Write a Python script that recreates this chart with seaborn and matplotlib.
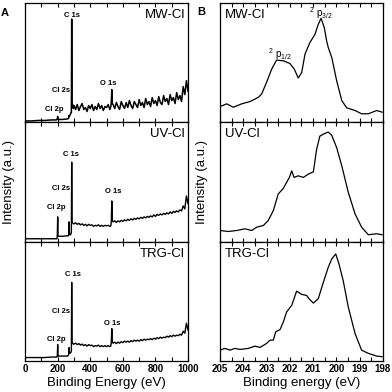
import matplotlib
matplotlib.use("Agg")
import matplotlib.pyplot as plt
from matplotlib.ticker import MultipleLocator
import seaborn as sns

sns.set_style("ticks")
plt.rcParams['font.family'] = ['Liberation Sans', 'DejaVu Sans']
plt.rcParams['mathtext.fontset'] = 'custom'
plt.rcParams['mathtext.rm'] = 'Liberation Sans'
plt.rcParams['text.color'] = 'black'
plt.rcParams['axes.labelcolor'] = 'black'
plt.rcParams['xtick.color'] = 'black'

# ---- Panel A: survey spectra (shared energy grid, eV) ----
survey_ev = [0, 40, 80, 120, 160, 190, 196, 198, 200, 202, 204, 230, 260, 266, 268, 270, 272, 274,
             278, 282, 284, 286, 288, 292, 296,
             300, 310, 320, 330, 340, 350, 360, 370, 380, 390, 400, 410, 420, 430, 440, 450, 460,
             470, 480, 490, 500, 510, 520,
             526, 529, 532, 535,
             540, 550, 560, 570, 580, 590, 600, 610, 620, 630, 640, 650, 660, 670, 680, 690, 700,
             710, 720, 730, 740, 750, 760, 770, 780, 790, 800, 810, 820, 830, 840, 850, 860, 870,
             880, 890, 900, 910, 920, 930, 940, 950, 960, 970, 980, 990, 1000]

survey_mw = [1.5, 1.5, 2, 2, 2.5, 2.5, 3, 4, 6, 3, 3, 3, 3.5, 4, 5, 7, 6, 7,
             8, 10, 10, 104, 18, 18, 14,
             17, 13, 18, 12, 16, 19, 13, 15, 11, 17, 14, 18, 12, 16, 13, 19, 14,
             17, 12, 16, 15, 18, 13,
             16, 20, 33, 19,
             18, 14, 20, 16, 13, 21, 17, 14, 20, 15, 22, 17, 14, 21, 18, 15, 23,
             17, 20, 15, 24, 18, 21, 16, 25, 19, 22, 17, 26, 20, 18, 27, 21, 24,
             18, 28, 22, 25, 19, 30, 23, 27, 21, 36, 28, 42, 31]

survey_uv = [3, 3, 3, 3, 3, 3, 3, 8, 25, 6, 5.5, 5.5, 6, 6, 8, 20, 8, 7,
             7, 8, 10, 80, 20, 19, 18,
             18, 19, 17.5, 18.5, 17, 18, 16.5, 17.5, 16, 17.5, 16.5, 17, 15.5, 16.5, 16, 17, 15.5,
             16.5, 15.5, 16.5, 16, 16.5, 15.5,
             16, 20, 41, 21,
             20, 21, 19.5, 21, 20, 21.5, 20.5, 22, 21, 22.5, 21.5, 23, 22, 23.5, 22.5, 24, 23,
             24.5, 23.5, 25, 24, 25.5, 24.5, 26, 25, 27, 25.5, 27.5, 26.5, 28, 27, 28.5, 27.5, 29,
             28, 30, 28.5, 30.5, 29.5, 31, 30, 32, 31, 36, 33, 46, 38]

survey_trg = [3.5, 3.5, 3.5, 3.5, 4, 4, 4, 6, 16.5, 5, 5, 5, 5, 6, 7, 13.5, 8, 8,
              8, 9, 10, 79, 19, 18, 17,
              17, 18, 16.5, 17.5, 16, 17, 15.5, 16.5, 15, 16.5, 15.5, 16, 14.5, 15.5, 15, 16, 14.5,
              15.5, 14.5, 15.5, 14.5, 15.5, 14.5,
              15, 19, 32.5, 19,
              18, 19, 17.5, 19, 18, 19.5, 18.5, 20, 19, 20, 19, 20.5, 19.5, 21, 20, 21, 20,
              21.5, 20.5, 22, 21, 22, 21.5, 22.5, 21.5, 23, 22, 23.5, 22.5, 24, 23, 24, 23.5, 25,
              24, 25.5, 24.5, 26, 25, 26, 25.5, 27, 26, 30, 28, 38, 31]

# ---- Panel B: Cl 2p high resolution ----
mw_ev = [205.0, 204.71, 204.43, 204.07, 203.71, 203.35, 203.21, 203.0, 202.78, 202.57, 202.28,
         202.0, 201.81, 201.64, 201.49, 201.35, 201.14, 200.92, 200.78, 200.66, 200.52, 200.42,
         200.35, 200.20, 199.99, 199.77, 199.56, 199.20, 198.92, 198.63, 198.27, 198.03]
mw_int = [16, 18.7, 15.3, 18.7, 21, 25.3, 28.7, 40.3, 53.7, 62.7, 62, 59.3, 53.7, 44.7, 50.3,
          68.7, 80.3, 88.7, 98.7, 104.7, 95.3, 82, 75.3, 65.3, 42, 22, 14.7, 12, 8.7, 8.7, 12, 10.3]

uv_ev = [205.0, 204.64, 204.28, 203.93, 203.64, 203.42, 203.14, 202.93, 202.71, 202.50, 202.28,
         202.14, 202.02, 201.92, 201.82, 201.64, 201.42, 201.21, 200.99, 200.85, 200.71, 200.49,
         200.35, 200.20, 199.99, 199.77, 199.49, 199.20, 198.92, 198.63, 198.27, 198.03]
uv_int = [11.3, 10.3, 11.3, 13, 11.3, 14.7, 16.3, 21.3, 31.3, 48, 53.7, 59.7, 64.7, 71.3, 64.7,
          66.3, 64.7, 68, 70.3, 93, 106.3, 109, 110.3, 107, 94.7, 76.3, 49.7, 28, 14.7, 7, 8, 7]

trg_ev = [205.0, 204.79, 204.57, 204.36, 204.14, 203.78, 203.50, 203.28, 203.0, 202.85, 202.71,
          202.61, 202.42, 202.28, 202.14, 201.92, 201.71, 201.49, 201.28, 201.14, 200.99, 200.78,
          200.56, 200.35, 200.20, 200.03, 199.89, 199.71, 199.49, 199.20, 198.92, 198.63, 198.27,
          198.03]
trg_int = [11, 12.7, 11, 12.7, 11.7, 12.7, 15, 13.7, 17.7, 21, 21, 29.3, 31.7, 39.3, 49.3, 56,
           70.3, 67, 66, 61.7, 58.3, 62.7, 79.3, 94.3, 102.7, 107.7, 97.7, 81, 54.3, 27.7, 11, 7.7,
           5, 4.3]

sample_names = ["MW-Cl", "UV-Cl", "TRG-Cl"]
survey_sets = [survey_mw, survey_uv, survey_trg]
hr_sets = [(mw_ev, mw_int), (uv_ev, uv_int), (trg_ev, trg_int)]

# peak label positions (eV, height) per sample
survey_labels = [
    {"C 1s": (288, 108), "Cl 2s": (221, 32), "Cl 2p": (178, 13), "O 1s": (509, 39)},
    {"C 1s": (282, 88), "Cl 2s": (221, 54), "Cl 2p": (194, 34), "O 1s": (540, 51)},
    {"C 1s": (292, 87), "Cl 2s": (221, 50), "Cl 2p": (190, 22), "O 1s": (532, 38)},
]

fig, axes = plt.subplots(3, 2, figsize=(3.92, 3.92), dpi=100)
fig.subplots_adjust(left=0.064, right=0.977, top=0.992, bottom=0.079, hspace=0, wspace=0.196)

for i in range(3):
    axa = axes[i, 0]
    axb = axes[i, 1]
    sns.lineplot(x=survey_ev, y=survey_sets[i], ax=axa, color="black",
                 linewidth=1.1 if i == 0 else 1.0)
    sns.lineplot(x=hr_sets[i][0], y=hr_sets[i][1], ax=axb, color="black", linewidth=0.9,
                 sort=False)

    axa.set_xlim(0, 1000)
    axa.set_ylim(0, 120)
    axb.set_xlim(205, 198)
    axb.set_ylim(0, 120)

    axa.xaxis.set_major_locator(MultipleLocator(200))
    axa.xaxis.set_minor_locator(MultipleLocator(100))
    axb.xaxis.set_major_locator(MultipleLocator(1))
    axb.xaxis.set_minor_locator(MultipleLocator(0.5))

    for ax in (axa, axb):
        ax.set_ylabel("")
        ax.set_xlabel("")
        ax.tick_params(axis="x", which="both", direction="in", top=True, bottom=True,
                       length=3, width=0.8, pad=2, labelsize=7)
        ax.tick_params(axis="y", left=False, labelleft=False)
        for s in ax.spines.values():
            s.set_linewidth(0.9)
            s.set_color("black")
        for t in ax.get_xticklabels():
            t.set_fontweight("bold")
        if i < 2:
            ax.tick_params(axis="x", labelbottom=False)

    axa.text(0.98, 0.90, sample_names[i], transform=axa.transAxes, ha="right", va="center",
             fontsize=9.5)
    axb.text(0.03, 0.90, sample_names[i], transform=axb.transAxes, ha="left", va="center",
             fontsize=9.5)
    for lab, (xe, yh) in survey_labels[i].items():
        axa.text(xe, yh, lab, ha="center", va="center", fontsize=5.5, fontweight="bold")

axes[0, 1].text(202.42, 69, r"$\mathregular{^{2}\ p_{1/2}}$", ha="center", va="center", fontsize=7)
axes[0, 1].text(200.66, 110, r"$\mathregular{^{2}\ p_{3/2}}$", ha="center", va="center", fontsize=7)

axes[2, 0].set_xlabel("Binding Energy (eV)", fontsize=9.5, labelpad=2)
axes[2, 1].set_xlabel("Binding energy (eV)", fontsize=9.5, labelpad=2)
axes[1, 0].set_ylabel("Intensity (a.u.)", fontsize=9.5)
axes[1, 0].yaxis.set_label_coords(-0.062, 0.5)
axes[1, 1].set_ylabel("Intensity (a.u.)", fontsize=9.5)
axes[1, 1].yaxis.set_label_coords(-0.074, 0.5)

fig.text(5 / 392, 1 - 13 / 392, "A", fontsize=8, fontweight="bold", ha="center", va="center")
fig.text(201 / 392, 1 - 12 / 392, "B", fontsize=8, fontweight="bold", ha="center", va="center")

fig.savefig("out.png", dpi=100)
